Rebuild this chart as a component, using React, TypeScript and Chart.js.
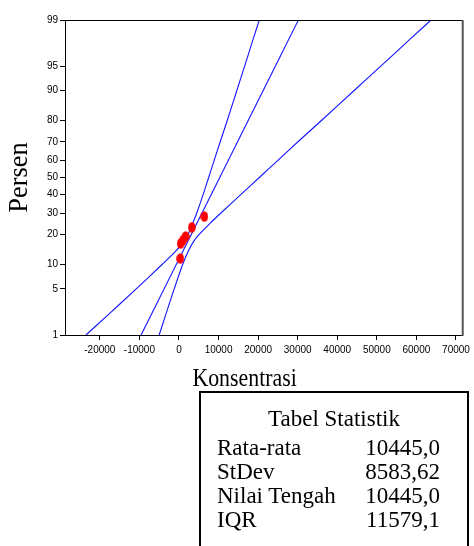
import React, { useEffect, useRef } from "react";
import { Chart, registerables } from "chart.js";

Chart.register(...registerables);

// ---- data ----
const yTickPct = [1, 5, 10, 20, 30, 40, 50, 60, 70, 80, 90, 95, 99];
const xTickValues = [-20000, -10000, 0, 10000, 20000, 30000, 40000, 50000, 60000, 70000];

const pointX = [350, 425, 1050, 1675, 3250, 6425];
const pointPct = [11.6, 16.5, 17.8, 19.2, 23.1, 28.2];

const fitPct = [1, 99];
const fitX = [-9580, 30180];

const bandPct = [1, 2, 5, 10, 14, 17, 20, 25, 30, 40, 50, 60, 70, 80, 90, 95, 98, 99];
const lowerBand = [-23500, -18400, -10800, -4200, -700, 1100, 2300, 3500, 4500, 6100, 7500, 8900, 10400, 12200, 14600, 16600, 18800, 20300];
const upperBand = [-5000, -3500, -1200, 950, 2400, 3600, 5100, 7900, 10600, 15600, 20300, 25000, 30000, 36000, 44200, 51000, 58600, 63700];

const statLabels = ["Rata-rata", "StDev", "Nilai Tengah", "IQR"];
const statValues = ["10445,0", "8583,62", "10445,0", "11579,1"];

// inverse standard normal (probability-scale transform)
function probit(p: number): number {
  const a = [-3.969683028665376e1, 2.209460984245205e2, -2.759285104469687e2, 1.38357751867269e2, -3.066479806614716e1, 2.506628277459239];
  const b = [-5.447609879822406e1, 1.615858368580409e2, -1.556989798598866e2, 6.680131188771972e1, -1.328068155288572e1];
  const c = [-7.784894002430293e-3, -3.223964580411365e-1, -2.400758276161838, -2.549732516111780, 4.374664141464968, 2.938163982698783];
  const d = [7.784695709041462e-3, 3.224671290700398e-1, 2.445134137142996, 3.754408661907416];
  const plow = 0.02425;
  if (p < plow) {
    const q = Math.sqrt(-2 * Math.log(p));
    return (((((c[0] * q + c[1]) * q + c[2]) * q + c[3]) * q + c[4]) * q + c[5]) / ((((d[0] * q + d[1]) * q + d[2]) * q + d[3]) * q + 1);
  }
  if (p <= 1 - plow) {
    const q = p - 0.5;
    const r = q * q;
    return ((((((a[0] * r + a[1]) * r + a[2]) * r + a[3]) * r + a[4]) * r + a[5]) * q) / (((((b[0] * r + b[1]) * r + b[2]) * r + b[3]) * r + b[4]) * r + 1);
  }
  const q = Math.sqrt(-2 * Math.log(1 - p));
  return -(((((c[0] * q + c[1]) * q + c[2]) * q + c[3]) * q + c[4]) * q + c[5]) / ((((d[0] * q + d[1]) * q + d[2]) * q + d[3]) * q + 1);
}

const BLUE = "#1414ff";

const framePlugin = {
  id: "frame",
  afterDraw(chart: any) {
    const { ctx, chartArea } = chart;
    const { left, right, top, bottom } = chartArea;
    ctx.save();
    ctx.strokeStyle = "#000";
    ctx.lineWidth = 1;
    ctx.beginPath();
    ctx.moveTo(left, top + 0.5);
    ctx.lineTo(right, top + 0.5);
    ctx.stroke();
    ctx.strokeStyle = "#555";
    ctx.lineWidth = 2;
    ctx.beginPath();
    ctx.moveTo(right, top);
    ctx.lineTo(right, bottom + 1);
    ctx.stroke();

    // axis titles
    ctx.fillStyle = "#000";
    ctx.font = "26px 'Liberation Serif'";
    ctx.textAlign = "center";
    ctx.textBaseline = "alphabetic";
    ctx.save();
    ctx.translate(left + (right - left) * 0.4515, bottom + 51);
    ctx.scale(0.84, 1);
    ctx.fillText("Konsentrasi", 0, 0);
    ctx.restore();

    ctx.save();
    ctx.font = "26.5px 'Liberation Serif'";
    ctx.translate(27, (top + bottom) / 2);
    ctx.rotate(-Math.PI / 2);
    ctx.fillText("Persen", 0, 0);
    ctx.restore();
    ctx.restore();
  },
};

export default function App() {
  const canvasRef = useRef<HTMLCanvasElement>(null);

  useEffect(() => {
    const canvas = canvasRef.current;
    if (!canvas) return;

    const dot = document.createElement("canvas");
    dot.width = 8;
    dot.height = 11;
    const dctx = dot.getContext("2d")!;
    dctx.fillStyle = "#ff0000";
    dctx.beginPath();
    dctx.ellipse(4, 5.5, 3.8, 5.3, 0, 0, Math.PI * 2);
    dctx.fill();

    const lineStyle = {
      borderColor: BLUE,
      borderWidth: 1.1,
      pointRadius: 0,
      showLine: true,
      fill: false,
    };

    const chart = new Chart(canvas, {
      type: "scatter",
      data: {
        datasets: [
          {
            label: "Data",
            data: pointX.map((x, i) => ({ x, y: probit(pointPct[i] / 100) })),
            pointStyle: dot as any,
            pointRadius: 5,
            showLine: false,
          },
          {
            label: "Fit",
            data: fitX.map((x, i) => ({ x, y: probit(fitPct[i] / 100) })),
            ...lineStyle,
            tension: 0,
          },
          {
            label: "Lower",
            data: lowerBand.map((x, i) => ({ x, y: probit(bandPct[i] / 100) })),
            ...lineStyle,
            tension: 0.3,
          },
          {
            label: "Upper",
            data: upperBand.map((x, i) => ({ x, y: probit(bandPct[i] / 100) })),
            ...lineStyle,
            tension: 0.3,
          },
        ] as any,
      },
      options: {
        responsive: false,
        animation: false,
        layout: { padding: { left: 0, top: 20, right: 7, bottom: 0 } },
        plugins: {
          legend: { display: false },
          tooltip: { enabled: false },
        },
        scales: {
          x: {
            type: "linear",
            min: -28800,
            max: 71700,
            afterBuildTicks: (s: any) => {
              s.ticks = xTickValues.map((v) => ({ value: v }));
            },
            afterFit: (s: any) => {
              s.height = 211;
            },
            grid: { drawOnChartArea: false, drawTicks: true, tickLength: 5, color: "#000" },
            border: { color: "#000", width: 1 },
            ticks: {
              font: { family: "'Liberation Sans'", size: 10 },
              color: "#000",
              padding: 4,
              maxRotation: 0,
              autoSkip: false,
              callback: (v: any) => String(v),
            },
          },
          y: {
            type: "linear",
            min: probit(0.01),
            max: probit(0.99),
            afterBuildTicks: (s: any) => {
              s.ticks = yTickPct.map((p) => ({ value: probit(p / 100) }));
            },
            afterFit: (s: any) => {
              s.width = 65;
            },
            grid: { drawOnChartArea: false, drawTicks: true, tickLength: 5, color: "#000" },
            border: { color: "#000", width: 1 },
            ticks: {
              font: { family: "'Liberation Sans'", size: 10 },
              color: "#000",
              padding: 2,
              autoSkip: false,
              callback: (_v: any, i: number) => String(yTickPct[i]),
            },
          },
        },
      } as any,
      plugins: [framePlugin],
    });

    return () => chart.destroy();
  }, []);

  const serif = "'Liberation Serif', 'Times New Roman', serif";
  return (
    <div style={{ position: "absolute", left: 0, top: 0, width: 474, height: 546, overflow: "hidden", background: "#fff" }}>
      <canvas ref={canvasRef} width={474} height={546} style={{ display: "block", position: "absolute", left: 0, top: 0 }} />
      <div
        style={{
          position: "absolute",
          left: 199,
          top: 391,
          width: 270,
          height: 200,
          border: "2px solid #000",
          boxSizing: "border-box",
        }}
      />
      <div
        style={{
          position: "absolute",
          left: 199,
          width: 270,
          top: 407,
          textAlign: "center",
          fontFamily: serif,
          fontSize: 23,
          lineHeight: "23px",
          color: "#000",
        }}
      >
        Tabel Statistik
      </div>
      {statLabels.map((lab, i) => (
        <React.Fragment key={lab}>
          <div
            style={{
              position: "absolute",
              left: 217,
              top: 436 + i * 24,
              fontFamily: serif,
              fontSize: 23,
              lineHeight: "23px",
              whiteSpace: "nowrap",
              color: "#000",
            }}
          >
            {lab}
          </div>
          <div
            style={{
              position: "absolute",
              right: 474 - 440,
              top: 436 + i * 24,
              fontFamily: serif,
              fontSize: 23,
              lineHeight: "23px",
              whiteSpace: "nowrap",
              textAlign: "right",
              color: "#000",
            }}
          >
            {statValues[i]}
          </div>
        </React.Fragment>
      ))}
    </div>
  );
}
